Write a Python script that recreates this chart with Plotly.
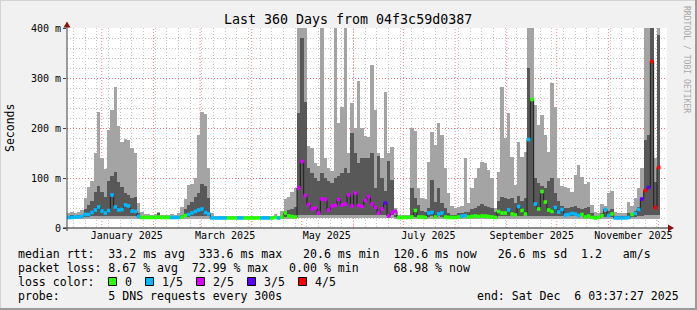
import numpy as np
import pandas as pd
import plotly.graph_objects as go

# ---------------- data (milliseconds, one value per 2-day bin) ----------------
start = pd.Timestamp("2024-12-11 03:37:27")
end = pd.Timestamp("2025-12-06 03:37:27")
bin_days = 2

smoke_lo = [19, 19, 19, 19, 19, 19, 19, 19, 19, 19,
            19, 19, 19, 19, 19, 19, 19, 19, 19, 19,
            19, 19, 19, 19, 19, 19, 19, 19, 19, 19,
            19, 19, 19, 19, 19, 19, 19, 19, 19, 19,
            19, 19, 19, 19, 19, 19, 19, 19, 19, 19,
            19, 19, 19, 19, 19, 19, 19, 19, 19, 19,
            19, 19, 19, 19, 19, 19, 19, 19, 19, 20,
            20, 20, 20, 20, 20, 20, 20, 20, 20, 20,
            20, 20, 20, 20, 20, 20, 20, 20, 20, 20,
            20, 20, 20, 20, 20, 20, 20, 20, 19, 19,
            19, 19, 19, 19, 19, 19, 19, 19, 19, 19,
            19, 19, 19, 19, 19, 19, 19, 19, 19, 19,
            19, 19, 19, 19, 19, 19, 19, 19, 19, 19,
            19, 19, 19, 19, 19, 19, 19, 19, 19, 19,
            19, 19, 19, 19, 19, 19, 19, 19, 19, 19,
            19, 19, 19, 19, 19, 19, 19, 19, 19, 19,
            19, 19, 19, 19, 19, 19, 19, 19, 19, 19,
            19, 19, 19, 19, 19, 19, 19, 19, None, None]

smoke_hi = [31, 33, 30, 32, 36, 60, 83, 95, 150, 232,
            140, 118, 196, 236, 282, 205, 172, 178, 176, 160,
            150, 50, 33, 29, 28, 27, 28, 32, 27, 26,
            27, 28, 27, 30, 42, 58, 86, 88, 100, 187,
            232, 228, 120, 30, 25, 24, 24, 24, 24, 25,
            24, 24, 24, 24, 25, 24, 24, 25, 24, 24,
            24, 25, 28, 25, 34, 58, 62, 72, 80, 420,
            420, 420, 165, 160, 130, 125, 420, 140, 120, 115,
            420, 210, 243, 420, 150, 250, 200, 295, 200, 185,
            183, 327, 236, 150, 140, 273, 150, 163, 40, 26,
            26, 27, 26, 200, 195, 80, 60, 58, 133, 193,
            167, 210, 187, 120, 70, 45, 40, 42, 45, 140,
            50, 80, 100, 120, 133, 130, 117, 100, 40, 113,
            283, 180, 230, 143, 87, 173, 143, 153, 420, 420,
            247, 207, 227, 187, 153, 291, 243, 100, 85, 83,
            80, 73, 107, 127, 103, 88, 93, 47, 33, 30,
            48, 45, 70, 75, 32, 30, 30, 30, 53, 45,
            60, 80, 120, 420, 420, 420, 140, 420, None, None]

dark_lo = [22, 22, 22, 22, 22, 23, 23, 24, 24, 24,
           24, 24, 24, 24, 24, 24, 24, 24, 24, 24,
           24, 22, 21, 21, 21, 21, 21, 21, 21, 21,
           21, 21, 21, 21, 22, 23, 23, 24, 24, 24,
           24, 24, 24, 21, 21, 21, 21, 21, 21, 21,
           21, 21, 21, 21, 21, 21, 21, 21, 21, 21,
           21, 21, 21, 21, 21, 22, 22, 22, 23, 26,
           27, 27, 27, 27, 27, 27, 27, 27, 27, 27,
           27, 27, 27, 27, 27, 27, 27, 27, 27, 27,
           27, 27, 27, 27, 27, 27, 27, 26, 23, 21,
           21, 21, 21, 23, 23, 22, 22, 22, 23, 24,
           23, 24, 23, 22, 22, 22, 22, 23, 23, 23,
           23, 23, 24, 24, 24, 24, 24, 23, 22, 24,
           24, 24, 24, 24, 24, 25, 24, 24, 25, 25,
           25, 25, 25, 25, 25, 25, 24, 24, 24, 24,
           24, 24, 24, 24, 24, 24, 24, 22, 21, 21,
           22, 22, 23, 23, 21, 21, 21, 21, 22, 22,
           23, 24, 25, 26, 26, 26, 26, 26, None, None]

dark_hi = [24, 25, 24, 25, 27, 38, 46, 55, 72, 85,
           72, 62, 95, 105, 112, 92, 82, 70, 66, 60,
           62, 30, 24, 23, 22, 22, 22, 30, 22, 22,
           22, 22, 22, 23, 26, 38, 46, 52, 62, 70,
           88, 85, 60, 22, 21, 21, 21, 21, 21, 21,
           21, 21, 21, 21, 21, 21, 21, 21, 21, 21,
           21, 21, 22, 21, 22, 34, 36, 38, 42, 230,
           380, 253, 120, 110, 100, 95, 110, 100, 95, 90,
           100, 105, 110, 120, 110, 190, 150, 130, 140, 140,
           140, 150, 80, 145, 100, 75, 135, 97, 26, 22,
           22, 22, 22, 80, 60, 47, 35, 32, 40, 97,
           53, 80, 50, 40, 30, 27, 26, 30, 30, 32,
           33, 38, 40, 45, 48, 45, 42, 40, 32, 55,
           62, 60, 58, 60, 50, 65, 55, 60, 320, 260,
           100, 90, 85, 80, 95, 100, 70, 55, 45, 40,
           40, 42, 45, 40, 38, 40, 42, 30, 24, 24,
           30, 32, 35, 38, 25, 23, 23, 23, 30, 28,
           35, 42, 60, 177, 187, 420, 93, 387, None, None]

median_ms = [21, 21, 22, 22, 23, 27, 27, 31, 36, 42,
             34, 30, 35, 66, 42, 36, 37, 46, 44, 34,
             33, 23, 21, 21, 21, 21, 21, 22, 21, 21,
             21, 21, 21, 21, 22, 25, 27, 30, 33, 36,
             38, 31, 28, 20, 20, 20, 20, 20, 20, 20,
             20, 20, 20, 20, 20, 20, 20, 20, 20, 20,
             20, 20, 21, 20, 22, 30, 24, 23, 22, 80,
             133, 65, 47, 38, 40, 30, 58, 57, 36, 44,
             45, 57, 46, 48, 66, 44, 70, 45, 43, 55,
             63, 48, 41, 30, 38, 50, 24, 31, 33, 21,
             21, 21, 21, 22, 35, 22, 22, 21, 30, 31,
             22, 28, 30, 22, 21, 21, 21, 22, 24, 25,
             22, 23, 24, 23, 24, 24, 23, 22, 21, 33,
             30, 30, 36, 28, 26, 43, 35, 28, 177, 257,
             48, 38, 73, 52, 36, 33, 41, 32, 37, 26,
             27, 29, 28, 25, 27, 22, 24, 21, 20, 21,
             25, 37, 25, 28, 20, 20, 20, 20, 21, 27,
             29, 37, 58, 75, 81, 333, 41, 121, None, None]

loss_n = [1, 1, 1, 1, 1, 1, 1, 1, 1, 1,
          1, 1, 1, 1, 1, 1, 1, 1, 1, 1,
          1, 1, 0, 0, 0, 0, 0, 0, 0, 0,
          0, 1, 1, 1, 0, 0, 1, 1, 1, 1,
          1, 1, 1, 1, 1, 1, 1, 1, 0, 0,
          0, 1, 1, 0, 0, 0, 0, 0, 1, 1,
          1, 0, 0, 1, 0, 0, 0, 0, 0, 2,
          2, 2, 2, 2, 2, 2, 2, 2, 2, 2,
          2, 2, 2, 2, 2, 2, 2, 2, 2, 2,
          2, 2, 2, 2, 2, 3, 2, 2, 2, 0,
          0, 0, 0, 0, 0, 0, 0, 0, 1, 1,
          0, 1, 1, 0, 0, 0, 0, 0, 1, 1,
          0, 0, 0, 0, 0, 0, 0, 0, 0, 0,
          0, 0, 1, 0, 0, 1, 0, 0, 1, 0,
          1, 0, 0, 0, 0, 0, 1, 1, 1, 1,
          1, 1, 1, 1, 0, 0, 0, 0, 0, 0,
          0, 1, 1, 0, 1, 1, 1, 1, 1, 0,
          1, 1, 3, 4, 3, 4, 4, 4, None, None]

loss_colors = ["#26ff00", "#00b8ff", "#dd00ff", "#5e00ff", "#ff0000"]
loss_labels = ["0", "1/5", "2/5", "3/5", "4/5"]

x_tick_dates = ["2025-01-16", "2025-03-16", "2025-05-16",
                "2025-07-16", "2025-09-16", "2025-11-16"]
x_tick_text = ["January 2025", "March 2025", "May 2025",
               "July 2025", "September 2025", "November 2025"]
y_tick_vals = [0, 0.1, 0.2, 0.3, 0.4]
y_tick_text = ["0", "100 m", "200 m", "300 m", "400 m"]

title_text = "Last 360 Days from 04f3c59d0387"
stat_rtt = "median rtt:  33.2 ms avg  333.6 ms max   20.6 ms min  120.6 ms now   26.6 ms sd  1.2   am/s"
stat_loss = "packet loss: 8.67 % avg  72.99 % max   0.00 % min     68.98 % now"
stat_color = "loss color:"
stat_probe = "probe:       5 DNS requests every 300s"
stat_end = "end: Sat Dec  6 03:37:27 2025"
credit = "RRDTOOL / TOBI OETIKER"

# ---------------- figure ----------------
N = len(smoke_hi)
centers = start + pd.to_timedelta(np.arange(N) * bin_days + bin_days / 2, unit="D")
lo = np.array(smoke_lo, dtype=float) / 1000
hi = np.array(smoke_hi, dtype=float) / 1000
dlo = np.array(dark_lo, dtype=float) / 1000
dhi = np.array(dark_hi, dtype=float) / 1000
med = np.array(median_ms, dtype=float) / 1000
bw = bin_days * 86400000

MONO = "DejaVu Sans Mono"
L, T, W, H = 67, 28, 600, 200


def px(xp):
    return (xp - L) / W


def py(yp):
    return (T + H - yp) / H


fig = go.Figure()
fig.add_trace(go.Bar(x=centers, y=hi - lo, base=lo, width=bw,
                     marker=dict(color="#a4a4a4", line=dict(width=0)),
                     hoverinfo="skip"))
fig.add_trace(go.Bar(x=centers, y=dhi - dlo, base=dlo, width=bw,
                     marker=dict(color="#585858", line=dict(width=0)),
                     hoverinfo="skip"))
fig.add_trace(go.Scatter(x=centers, y=med, mode="lines",
                         line=dict(color="#1e1e1e", width=1, shape="hvh"),
                         connectgaps=False, hoverinfo="skip"))
valid = [i for i in range(N) if median_ms[i] is not None]
fig.add_trace(go.Scatter(x=[centers[i] for i in valid], y=[med[i] for i in valid],
                         mode="markers",
                         marker=dict(symbol="square", size=3.6,
                                     color=[loss_colors[loss_n[i]] for i in valid],
                                     line=dict(width=0)),
                         hoverinfo="skip"))

shapes = []
for d in pd.date_range("2025-01-01", "2025-12-01", freq="MS"):
    shapes.append(dict(type="line", xref="x", yref="paper", x0=d, x1=d, y0=0, y1=1,
                       line=dict(color="rgba(240,90,90,0.75)", width=1, dash="1px,2px"),
                       layer="below"))
# axes and arrows
shapes.append(dict(type="line", xref="paper", yref="paper", x0=px(63), x1=px(669),
                   y0=0, y1=0, line=dict(color="#202020", width=1)))
shapes.append(dict(type="line", xref="paper", yref="paper", x0=0, x1=0,
                   y0=py(231), y1=py(25), line=dict(color="#404040", width=1)))
shapes.append(dict(type="path", xref="paper", yref="paper",
                   path=f"M {px(63.5)} {py(27.5)} L {px(70.5)} {py(27.5)} L {px(67)} {py(21.5)} Z",
                   fillcolor="#8b1010", line=dict(width=0)))
shapes.append(dict(type="path", xref="paper", yref="paper",
                   path=f"M {px(668)} {py(224.5)} L {px(668)} {py(231.5)} L {px(674)} {py(228)} Z",
                   fillcolor="#8b1010", line=dict(width=0)))
# frame
shapes.append(dict(type="line", xref="paper", yref="paper", x0=px(0), x1=px(697),
                   y0=py(0.5), y1=py(0.5), line=dict(color="#d4d4d4", width=1)))
shapes.append(dict(type="line", xref="paper", yref="paper", x0=px(0.5), x1=px(0.5),
                   y0=py(0), y1=py(310), line=dict(color="#d4d4d4", width=1)))
shapes.append(dict(type="line", xref="paper", yref="paper", x0=px(0), x1=px(697),
                   y0=py(309), y1=py(309), line=dict(color="#9a9a9a", width=2)))
shapes.append(dict(type="line", xref="paper", yref="paper", x0=px(696), x1=px(696),
                   y0=py(0), y1=py(310), line=dict(color="#9a9a9a", width=2)))
# loss color boxes
box_x = [108.5, 145.5, 196.5, 247.5, 298.5]
for bx, c in zip(box_x, loss_colors):
    shapes.append(dict(type="rect", xref="paper", yref="paper",
                       x0=px(bx), x1=px(bx + 8), y0=py(285.5), y1=py(277.5),
                       fillcolor=c, line=dict(color="#000000", width=1)))


def nb(s):
    return s.replace(" ", "\u00a0")


ann = []
ann.append(dict(text=nb(title_text), x=px(348), y=py(19), xref="paper", yref="paper",
                showarrow=False, xanchor="center", yanchor="middle",
                font=dict(family=MONO, size=13.3, color="#000")))
ann.append(dict(text="Seconds", x=px(10), y=py(128), xref="paper", yref="paper",
                showarrow=False, xanchor="center", yanchor="middle", textangle=-90,
                font=dict(family=MONO, size=11.5, color="#000")))
for s, yy in [(stat_rtt, 254), (stat_loss, 268), (stat_color, 282), (stat_probe, 296)]:
    ann.append(dict(text=nb(s), x=px(16), y=py(yy), xref="paper", yref="paper",
                    showarrow=False, xanchor="left", yanchor="middle",
                    font=dict(family=MONO, size=11.56, color="#000")))
for bx, lab in zip(box_x, loss_labels):
    ann.append(dict(text=lab, x=px(bx + 14.5), y=py(282), xref="paper", yref="paper",
                    showarrow=False, xanchor="left", yanchor="middle",
                    font=dict(family=MONO, size=11.56, color="#000")))
ann.append(dict(text=nb(stat_end), x=px(681), y=py(296), xref="paper", yref="paper",
                showarrow=False, xanchor="right", yanchor="middle",
                font=dict(family=MONO, size=11.56, color="#000")))
ann.append(dict(text=nb(credit), x=px(687), y=py(59), xref="paper", yref="paper",
                showarrow=False, xanchor="center", yanchor="middle", textangle=90,
                font=dict(family=MONO, size=8.1, color="#a8a8a8")))

fig.update_layout(
    width=697, height=310,
    margin=dict(l=L, r=697 - L - W, t=T, b=310 - T - H, pad=0),
    paper_bgcolor="#f1f1f1", plot_bgcolor="#ffffff",
    showlegend=False, barmode="overlay", bargap=0,
    shapes=shapes, annotations=ann,
    xaxis=dict(type="date", range=[start, end], tickvals=x_tick_dates, ticktext=x_tick_text,
               showgrid=False, zeroline=False, showline=False, ticks="",
               tickfont=dict(family=MONO, size=10, color="#000"),
               minor=dict(tick0="2024-12-15", dtick=7 * 86400000, showgrid=True,
                          gridcolor="#c4c4c4", griddash="1px,2px", gridwidth=1, ticks=""),
               fixedrange=True),
    yaxis=dict(range=[0, 0.4], tickvals=y_tick_vals, ticktext=y_tick_text,
               showgrid=True, gridcolor="rgba(240,90,90,0.75)", griddash="1px,2px", gridwidth=1,
               zeroline=False, showline=False, ticks="outside", ticklen=3, tickcolor="#404040",
               tickfont=dict(family=MONO, size=10, color="#000"),
               minor=dict(dtick=0.02, showgrid=True, gridcolor="#c4c4c4",
                          griddash="1px,2px", gridwidth=1, ticks=""),
               fixedrange=True),
)

fig.write_html("out.html")
